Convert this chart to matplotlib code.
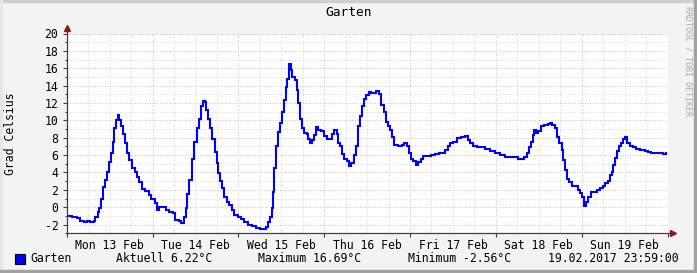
"""
Garten -- RRDtool-style weekly temperature graph.
"""

import numpy as np
import matplotlib
matplotlib.use("Agg")
import matplotlib.pyplot as plt
from matplotlib.lines import Line2D
from matplotlib.patches import Rectangle

# ------------------------------------------------------------------
# hours since Mon 13 Feb 2017 00:00, temperature in deg C
HOURS = [
    0.1, 1.5, 2.9, 3.8, 4.8, 5.7, 6.6, 7.6, 8.0, 8.8, 9.1, 9.7, 10.2, 10.8,
    11.3, 11.7, 12.3, 12.9, 13.3, 13.9, 14.3, 14.7, 15.3, 15.8, 16.4, 17.0,
    17.5, 18.3, 19.0, 19.7, 20.3, 21.1, 22.0, 22.9, 23.7, 24.6, 25.3, 25.9,
    26.9, 27.8, 28.7, 29.6, 30.4, 31.3, 32.1, 32.7, 33.4, 33.7, 34.2, 35.0,
    35.7, 36.4, 37.0, 37.6, 38.2, 38.7, 38.9, 39.4, 40.1, 40.7, 41.5, 42.0,
    42.4, 42.9, 43.5, 44.1, 44.7, 45.4, 46.1, 46.9, 47.8, 48.8, 49.7, 50.6,
    51.7, 52.9, 54.1, 55.0, 55.7, 56.2, 56.9, 57.3, 57.8, 58.1, 58.5, 59.0,
    59.7, 60.1, 60.7, 61.2, 61.7, 62.3, 62.7, 63.1, 63.7, 64.3, 64.8, 65.3,
    65.7, 66.3, 67.1, 67.6, 68.1, 68.7, 69.2, 69.7, 70.4, 71.1, 71.9, 72.7,
    73.3, 74.1, 74.8, 75.5, 75.8, 76.4, 76.9, 77.6, 78.3, 78.9, 79.5, 80.2,
    80.8, 81.4, 81.9, 82.5, 83.1, 83.6, 84.4, 85.1, 85.8, 86.4, 87.2, 87.9,
    88.6, 89.2, 89.8, 90.4, 91.1, 91.6, 92.6, 93.7, 94.4, 95.1, 95.7, 96.3,
    96.9, 97.7, 98.3, 99.1, 99.7, 100.9, 102.0, 103.0, 104.0, 104.7, 105.8,
    106.6, 107.2, 108.1, 109.1, 110.3, 111.4, 112.2, 112.8, 113.7, 114.7,
    116.1, 117.0, 118.4, 119.8, 121.2, 122.6, 124.0, 125.4, 126.3, 127.3,
    128.0, 128.7, 129.3, 129.9, 130.3, 130.7, 131.2, 131.9, 132.7, 133.6,
    134.5, 135.2, 135.8, 136.5, 137.2, 137.7, 138.4, 138.8, 139.4, 139.9,
    140.5, 141.4, 142.3, 143.0, 143.6, 144.2, 144.7, 145.3, 145.9, 146.7,
    147.6, 148.3, 149.2, 150.0, 150.4, 151.4, 151.8, 152.4, 152.9, 153.4,
    153.9, 154.4, 155.1, 155.5, 156.1, 156.7, 157.4, 158.3, 159.3, 160.4,
    161.6, 162.5, 163.5, 164.7, 165.8, 166.7, 167.7,
]
TEMPS = [
    -0.96, -1.07, -1.2, -1.6, -1.7, -1.57, -1.65, -1.6, -1.1, -0.5, -0.1, 1.0,
    2.3, 3.1, 4.1, 5.2, 6.2, 7.5, 9.1, 10.0, 10.6, 10.0, 9.4, 8.4, 7.4, 6.3,
    5.4, 4.5, 4.0, 3.5, 2.9, 2.1, 1.9, 1.4, 1.0, 0.5, -0.3, 0.0, 0.0, -0.3,
    -0.5, -0.7, -1.5, -1.6, -1.8, -1.1, -0.1, 1.5, 3.1, 5.6, 7.5, 9.1, 10.2,
    11.6, 12.2, 12.1, 11.2, 10.2, 9.1, 7.9, 6.4, 5.1, 3.9, 3.0, 2.2, 1.2, 0.65,
    0.3, -0.3, -0.9, -1.1, -1.3, -1.7, -2.0, -2.2, -2.4, -2.56, -2.56, -2.3,
    -1.7, -1.1, -0.1, 1.8, 4.5, 7.0, 8.7, 9.7, 11.0, 12.3, 13.8, 14.8, 16.5,
    15.8, 15.0, 14.6, 13.5, 12.0, 10.2, 9.1, 8.5, 8.4, 7.9, 7.4, 7.7, 8.3, 9.2,
    8.9, 8.8, 8.2, 7.9, 7.9, 8.4, 8.9, 8.4, 7.4, 7.0, 6.1, 5.6, 5.3, 4.7, 5.1,
    6.0, 7.0, 9.3, 10.5, 11.6, 12.5, 12.9, 13.3, 13.1, 13.2, 13.4, 13.0, 11.8,
    11.0, 9.8, 9.3, 8.9, 8.1, 7.2, 7.1, 7.2, 7.4, 7.0, 6.3, 5.6, 5.3, 4.9, 5.2,
    5.6, 5.9, 5.9, 6.0, 6.1, 6.2, 6.3, 6.6, 7.0, 7.4, 7.5, 8.0, 8.1, 8.2, 7.7,
    7.4, 7.1, 6.9, 6.9, 6.7, 6.5, 6.2, 6.0, 5.8, 5.8, 5.8, 5.6, 5.5, 5.8, 6.3,
    6.9, 7.5, 8.3, 8.9, 8.5, 8.8, 9.4, 9.5, 9.6, 9.7, 9.5, 9.1, 8.1, 7.4, 6.6,
    5.4, 4.3, 3.3, 2.9, 2.4, 2.4, 2.0, 1.6, 1.2, 0.2, 0.65, 1.2, 1.7, 1.8, 2.0,
    2.2, 2.4, 2.8, 3.0, 3.7, 4.0, 4.9, 5.7, 6.5, 7.0, 7.4, 7.9, 8.1, 7.4, 7.0,
    6.9, 6.7, 6.6, 6.5, 6.4, 6.2, 6.3, 6.2, 6.1, 6.22,
]
DAY_LABELS = ["Mon 13 Feb", "Tue 14 Feb", "Wed 15 Feb", "Thu 16 Feb",
              "Fri 17 Feb", "Sat 18 Feb", "Sun 19 Feb"]
Y_TICKS = list(range(-2, 21, 2))

LEGEND_NAME = "Garten"
LEGEND_CUR = "Aktuell 6.22°C"
LEGEND_MAX = "Maximum 16.69°C"
LEGEND_MIN = "Minimum -2.56°C"
LEGEND_DATE = "19.02.2017 23:59:00"

# ------------------------------------------------------------------
W, H = 697, 273
MONO = "DejaVu Sans Mono"
FS = 8.3
BG = "#F3F3F3"
MGRID = "#EDB9B9"
GRID = "#D8D8D8"
AXIS = "#404040"
ARROW = "#8B1A1A"


def fx(px):
    return px / W


def fy(py):
    return 1 - py / H


fig = plt.figure(figsize=(W / 100, H / 100), dpi=100, facecolor=BG)

# 3D-ish frame
fig.patches.append(Rectangle((0, fy(2)), 1, fy(0) - fy(2), transform=fig.transFigure,
                             color="#CFCFCF", zorder=0))
fig.patches.append(Rectangle((0, 0), fx(2), 1, transform=fig.transFigure,
                             color="#E6E6E6", zorder=0))
fig.patches.append(Rectangle((fx(694), 0), fx(3), 1, transform=fig.transFigure,
                             color="#A0A0A0", zorder=0))
fig.patches.append(Rectangle((0, 0), 1, fy(270), transform=fig.transFigure,
                             color="#A0A0A0", zorder=0))

x0, x1 = 66.7, 667.5
y0, y1 = 33.5, 233.3
ax = fig.add_axes([fx(x0), fy(y1), fx(x1) - fx(x0), fy(y0) - fy(y1)])
ax.set_facecolor("white")
ax.set_xlim(0, 168)
ax.set_ylim(-3, 20)
for s in ax.spines.values():
    s.set_visible(False)

# grid
for h in range(6, 168, 6):
    if h % 24:
        ax.axvline(h, color=GRID, lw=0.72, ls=(0, (1, 1.5)), zorder=1)
for v in range(-3, 21):
    if v % 2:
        ax.axhline(v, color=GRID, lw=0.72, ls=(0, (1, 1.5)), zorder=1)
for h in range(24, 168, 24):
    ax.axvline(h, color=MGRID, lw=0.72, ls=(0, (1, 1.5)), zorder=1.5)
for v in Y_TICKS + [20]:
    ax.axhline(v, color=MGRID, lw=0.72, ls=(0, (1, 1.5)), zorder=1.5)

ax.plot(HOURS, TEMPS, drawstyle="steps-post", color="#0000FF", lw=1.5,
        solid_joinstyle="miter", zorder=3)

# ticks
ax.set_yticks(Y_TICKS)
ax.set_yticklabels([str(v) for v in Y_TICKS], fontfamily=MONO, fontsize=FS)
ax.set_yticks(range(-3, 21), minor=True)
ax.set_xticks([12 + 24 * i for i in range(7)])
ax.set_xticklabels(DAY_LABELS, fontfamily=MONO, fontsize=FS)
ax.set_xticks(range(0, 169, 24), minor=True)
ax.tick_params(axis="x", which="major", length=0, pad=4)
ax.tick_params(axis="x", which="minor", length=3, direction="out", color=AXIS, width=0.8)
ax.tick_params(axis="y", which="major", length=3, direction="out", color=AXIS, width=0.8, pad=3)
ax.tick_params(axis="y", which="minor", length=1.5, direction="out", color=AXIS, width=0.8)

# axes with arrows
fig.add_artist(Line2D([fx(x0), fx(671)], [fy(y1), fy(y1)], color=AXIS, lw=0.9))
fig.add_artist(Line2D([fx(x0), fx(x0)], [fy(y1), fy(28)], color=AXIS, lw=0.9))
fig.add_artist(Line2D([fx(673)], [fy(y1)], marker=">", ms=5, color=ARROW, mec=ARROW))
fig.add_artist(Line2D([fx(x0)], [fy(28)], marker="^", ms=5, color=ARROW, mec=ARROW))

# texts
fig.text(fx(348.5), fy(13), "Garten", ha="center", va="center",
         fontfamily=MONO, fontsize=9.3)
fig.text(fx(11), fy(133.4), "Grad Celsius", rotation=90, ha="center", va="center",
         fontfamily=MONO, fontsize=FS)
fig.text(fx(688), fy(6), "RRDTOOL / TOBI OETIKER", rotation=270, ha="center",
         va="top", fontfamily=MONO, fontsize=6, color="#A8A8A8")

ly = fy(259)
fig.patches.append(Rectangle((fx(15), fy(264)), fx(10), fy(254) - fy(264),
                             transform=fig.transFigure, facecolor="#0000FF",
                             edgecolor="black", lw=0.8))
fig.text(fx(30), ly, LEGEND_NAME, va="center", fontfamily=MONO, fontsize=FS)
fig.text(fx(116), ly, LEGEND_CUR, va="center", fontfamily=MONO, fontsize=FS)
fig.text(fx(258.5), ly, LEGEND_MAX, va="center", fontfamily=MONO, fontsize=FS)
fig.text(fx(408), ly, LEGEND_MIN, va="center", fontfamily=MONO, fontsize=FS)
fig.text(fx(548), ly, LEGEND_DATE, va="center", fontfamily=MONO, fontsize=FS)

fig.savefig("out.png", dpi=100, facecolor=BG)
